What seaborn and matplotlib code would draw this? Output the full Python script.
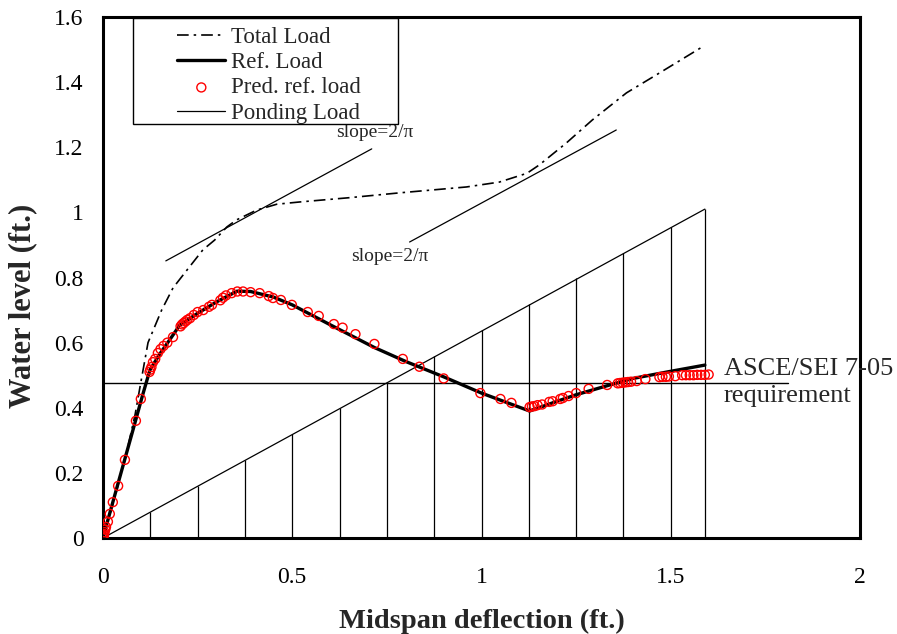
import matplotlib
matplotlib.use("Agg")
import matplotlib.pyplot as plt
from matplotlib.patches import Rectangle
import seaborn as sns

# =============================
# Data
# =============================
total_x = [0, 0.03, 0.06, 0.085, 0.098, 0.119, 0.155, 0.185, 0.222, 0.264, 0.295,
           0.327, 0.353, 0.406, 0.459, 0.52, 0.65, 0.784, 0.96, 1.047, 1.12, 1.153,
           1.224, 1.293, 1.383, 1.47, 1.583]
total_y = [0, 0.12, 0.25, 0.38, 0.465, 0.6, 0.70, 0.768, 0.823, 0.885, 0.915,
           0.955, 0.977, 1.007, 1.025, 1.032, 1.045, 1.06, 1.078, 1.093, 1.12, 1.146,
           1.213, 1.284, 1.367, 1.428, 1.508]

ref_x = [0, 0.02, 0.05, 0.08, 0.105, 0.124, 0.15, 0.18, 0.203, 0.25, 0.30, 0.354,
         0.39, 0.45, 0.5, 0.6, 0.717, 0.8, 0.9, 1.0, 1.127, 1.2, 1.25, 1.33, 1.4,
         1.5, 1.59]
ref_y = [0, 0.085, 0.21, 0.335, 0.44, 0.516, 0.565, 0.615, 0.654, 0.69, 0.725, 0.758,
         0.757, 0.74, 0.716, 0.655, 0.585, 0.542, 0.495, 0.445, 0.39, 0.42, 0.44,
         0.467, 0.49, 0.512, 0.531]

pred_x = [0.0, 0.001, 0.002, 0.003, 0.004, 0.006, 0.008, 0.013, 0.018, 0.026, 0.04,
          0.058, 0.087, 0.1, 0.123, 0.125, 0.128, 0.132, 0.138, 0.145, 0.152, 0.16,
          0.17, 0.185, 0.205, 0.209, 0.213, 0.218, 0.223, 0.23, 0.24, 0.25, 0.265,
          0.28, 0.288, 0.31, 0.317, 0.325, 0.34, 0.355, 0.37, 0.39, 0.414, 0.438,
          0.449, 0.47, 0.499, 0.541, 0.57, 0.61, 0.633, 0.667, 0.717, 0.792, 0.836,
          0.9, 0.997, 1.05, 1.079, 1.127, 1.133, 1.14, 1.148, 1.16, 1.179, 1.188,
          1.208, 1.215, 1.23, 1.25, 1.283, 1.332, 1.36, 1.366, 1.373, 1.38, 1.387,
          1.395, 1.41, 1.433, 1.47, 1.478, 1.487, 1.495, 1.512, 1.53, 1.54, 1.55,
          1.56, 1.57, 1.58, 1.59, 1.6]
pred_y = [0.0, 0.004, 0.008, 0.012, 0.018, 0.026, 0.034, 0.05, 0.074, 0.11, 0.16,
          0.24, 0.36, 0.427, 0.51, 0.517, 0.525, 0.54, 0.55, 0.568, 0.58, 0.59,
          0.60, 0.617, 0.65, 0.656, 0.66, 0.665, 0.67, 0.675, 0.685, 0.694, 0.70,
          0.71, 0.716, 0.73, 0.738, 0.745, 0.752, 0.757, 0.757, 0.755, 0.752, 0.743,
          0.737, 0.731, 0.716, 0.694, 0.682, 0.657, 0.646, 0.626, 0.596, 0.55, 0.526,
          0.49, 0.445, 0.427, 0.415, 0.402, 0.404, 0.405, 0.408, 0.41, 0.418, 0.42,
          0.427, 0.43, 0.436, 0.445, 0.458, 0.47, 0.475, 0.476, 0.477, 0.478, 0.479,
          0.48, 0.482, 0.488, 0.494, 0.495, 0.495, 0.496, 0.497, 0.50, 0.50, 0.50,
          0.50, 0.501, 0.501, 0.501, 0.502]

# ponding load triangle: vertical strips and their heights
pond_x = [0.125, 0.25, 0.375, 0.5, 0.625, 0.75, 0.875, 1.0, 1.125, 1.25, 1.375, 1.5, 1.59]
pond_h = [0.08, 0.16, 0.24, 0.32, 0.40, 0.48, 0.56, 0.64, 0.72, 0.80, 0.875, 0.955, 1.01]

# slope=2/pi guide lines
slope1_x = [0.166, 0.71]
slope1_y = [0.851, 1.195]
slope2_x = [0.81, 1.356]
slope2_y = [0.909, 1.253]

asce_level = 0.475
asce_x = [0, 1.81]

# =============================
# Style
# =============================
sns.set_theme(style="white")
plt.rcParams.update({
    "font.family": ["Liberation Serif", "DejaVu Serif"],
    "axes.linewidth": 2.2,
    "xtick.direction": "in",
    "ytick.direction": "in",
    "xtick.major.size": 5,
    "ytick.major.size": 5,
    "xtick.major.width": 2,
    "ytick.major.width": 2,
    "xtick.major.pad": 21,
    "ytick.major.pad": 14,
    "xtick.labelsize": 17,
    "ytick.labelsize": 17,
})

fig = plt.figure(figsize=(8.97, 6.34), dpi=100)
ax = fig.add_axes([0.1148, 0.1514, 0.8440, 0.8218])

sns.lineplot(x=total_x, y=total_y, sort=False, estimator=None, ax=ax, color="black",
             lw=1.2, linestyle=(0, (7, 3, 1.5, 3)), label="Total Load")
sns.lineplot(x=ref_x, y=ref_y, sort=False, estimator=None, ax=ax, color="black",
             lw=2.4, label="Ref. Load")
sns.scatterplot(x=pred_x, y=pred_y, ax=ax, marker="o", s=42, facecolors="none",
                edgecolors="red", linewidths=1.0, label="Pred. ref. load", zorder=5)
sns.lineplot(x=[0, pond_x[-1]], y=[0, pond_h[-1]], sort=False, estimator=None, ax=ax,
             color="black", lw=0.9, label="Ponding Load")
ax.vlines(pond_x, 0, pond_h, color="black", lw=0.9)

# guide lines + annotations
ax.plot(slope1_x, slope1_y, color="black", lw=0.9)
ax.plot(slope2_x, slope2_y, color="black", lw=0.9)
ax.text(0.718, 1.244, "slope=2/π", fontsize=14, ha="center", va="center")
ax.text(0.757, 0.863, "slope=2/π", fontsize=14, ha="center", va="center")

ax.plot(asce_x, [asce_level, asce_level], color="black", lw=1.0)
ax.text(1.64, 0.52, "ASCE/SEI 7-05", fontsize=19, ha="left", va="center")
ax.text(1.64, 0.435, "requirement", fontsize=19, ha="left", va="center")

ax.set_xlim(0, 2)
ax.set_ylim(0, 1.6)
ax.set_xticks([0, 0.5, 1, 1.5, 2])
ax.set_xticklabels(["0", "0.5", "1", "1.5", "2"])
ax.set_yticks([0, 0.2, 0.4, 0.6, 0.8, 1.0, 1.2, 1.4, 1.6])
ax.set_yticklabels(["0", "0.2", "0.4", "0.6", "0.8", "1", "1.2", "1.4", "1.6"])
ax.set_xlabel("Midspan deflection (ft.)", fontsize=20.5, fontweight="bold", labelpad=15)
ax.set_ylabel("Water level (ft.)", fontsize=22, fontweight="bold")
ax.yaxis.set_label_coords(-0.087, 0.445)
for s in ax.spines.values():
    s.set_color("black")
ax.tick_params(colors="black")

# legend: content left-offset inside a wider box, as in the reference
leg = ax.legend(loc="center left", bbox_to_anchor=(0.083, 0.888), fontsize=16.5,
                frameon=False, handlelength=2.1, handletextpad=0.25,
                labelspacing=0.18, borderpad=0.0, scatterpoints=1)
ax.add_patch(Rectangle((0.0396, 0.7946), 0.3501, 0.2034, transform=ax.transAxes,
                       fill=False, edgecolor="black", lw=1.0, zorder=6))

fig.savefig("out.png", dpi=100)
